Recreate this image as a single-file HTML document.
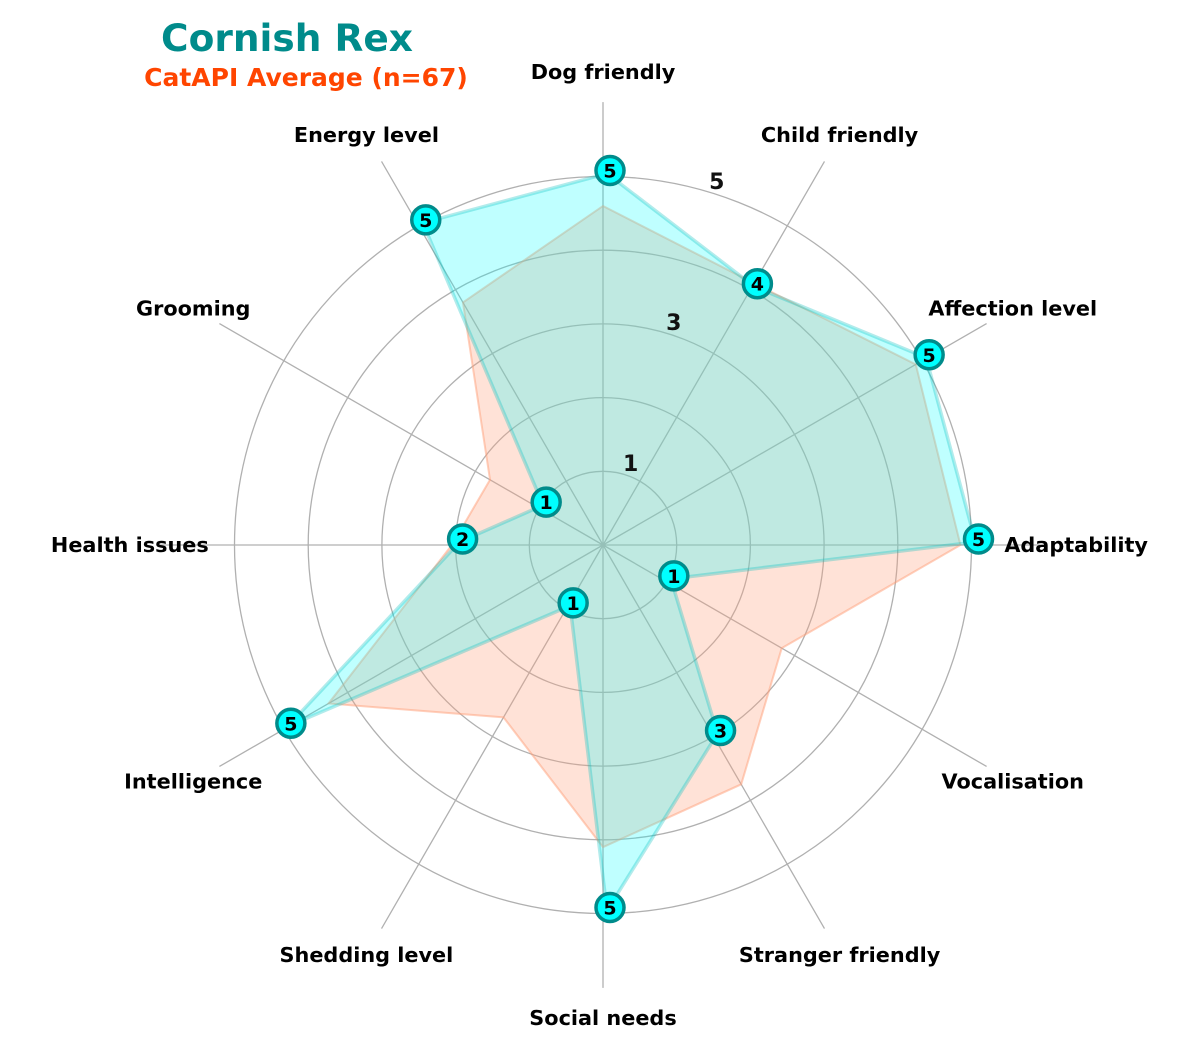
<!DOCTYPE html>
<html><head><meta charset="utf-8"><style>
body{margin:0;background:#fff}
svg text{font-family:"DejaVu Sans","Liberation Sans",sans-serif;font-weight:bold}
</style></head><body>
<svg id="chart" width="1200" height="1050" viewBox="0 0 1200 1050">
<text x="287" y="51" font-size="37.5" fill="#008b8b" text-anchor="middle">Cornish Rex</text>
<text x="306" y="86" font-size="25" fill="#ff4500" text-anchor="middle">CatAPI Average (n=67)</text>
<g id="grid"></g><g id="series"></g><g id="ticks"></g><g id="marks"></g>
</svg>
<script>
const categories=["Dog friendly","Child friendly","Affection level","Adaptability","Vocalisation","Stranger friendly","Social needs","Shedding level","Intelligence","Health issues","Grooming","Energy level"];
const breedValues=[5,4,5,5,1,3,5,1,5,2,1,5];
const averageValues=[4.6,4.1,4.9,4.85,2.8,3.75,4.1,2.7,4.3,2.05,1.77,3.8];
const ringTicks=[1,2,3,4,5];
const ringLabels=["1","3","5"];
const NS="http://www.w3.org/2000/svg";
const cx=603,cy=545,unit=73.7;
function ang(i){return (90-30*i)*Math.PI/180;}
function px(i,v){return cx+v*unit*Math.cos(ang(i));}
function py(i,v){return cy-v*unit*Math.sin(ang(i));}
function mk(tag,attrs,parent){const e=document.createElementNS(NS,tag);for(const k in attrs)e.setAttribute(k,attrs[k]);parent.appendChild(e);return e;}
const grid=document.getElementById('grid'),series=document.getElementById('series'),ticks=document.getElementById('ticks'),marks=document.getElementById('marks');
ringTicks.forEach(t=>{
  const c=mk('circle',{cx:cx,cy:cy,r:t*unit,fill:'none',stroke:'#b0b0b0','stroke-width':1.3},grid);
  
  
});
categories.forEach((c,i)=>{
  const l=mk('line',{x1:cx,y1:cy,x2:px(i,6.01),y2:py(i,6.01),stroke:'#b0b0b0','stroke-width':1.3},grid);
  
  
  const t=mk('text',{x:px(i,6.42),y:py(i,6.42)+7,'font-size':20.8,'text-anchor':'middle',fill:'#000'},grid);
  t.textContent=c;
  
  
});
const avgPts=averageValues.map((v,i)=>px(i,v)+','+py(i,v)).join(' ');
const ap=mk('polygon',{points:avgPts,fill:'rgba(255,160,122,0.3)',stroke:'rgba(255,160,122,0.5)','stroke-width':2},series);


const brPts=breedValues.map((v,i)=>(px(i,v)+4)+','+(py(i,v)-3)).join(' ');
const bp=mk('polygon',{points:brPts,fill:'rgba(0,255,255,0.25)',stroke:'rgba(0,190,190,0.3)','stroke-width':3.5},series);


ringLabels.forEach(s=>{
  const v=+s,a=73*Math.PI/180,r=v*unit+14;
  const t=mk('text',{x:cx+r*Math.cos(a)+2,y:cy-r*Math.sin(a)+10,'font-size':22,'text-anchor':'middle',fill:'#111'},ticks);
  t.textContent=s;
  
  
});
breedValues.forEach((v,i)=>{
  const x=px(i,v)+7,y=py(i,v)-6;
  const c=mk('circle',{cx:x,cy:y,r:14,fill:'#00ffff',stroke:'#008b8b','stroke-width':3.5},marks);
  
  
  const t=mk('text',{x:x,y:y+7,'font-size':19,'text-anchor':'middle',fill:'#000'},marks);
  t.textContent=v;
  
  
});
</script>
</body></html>
